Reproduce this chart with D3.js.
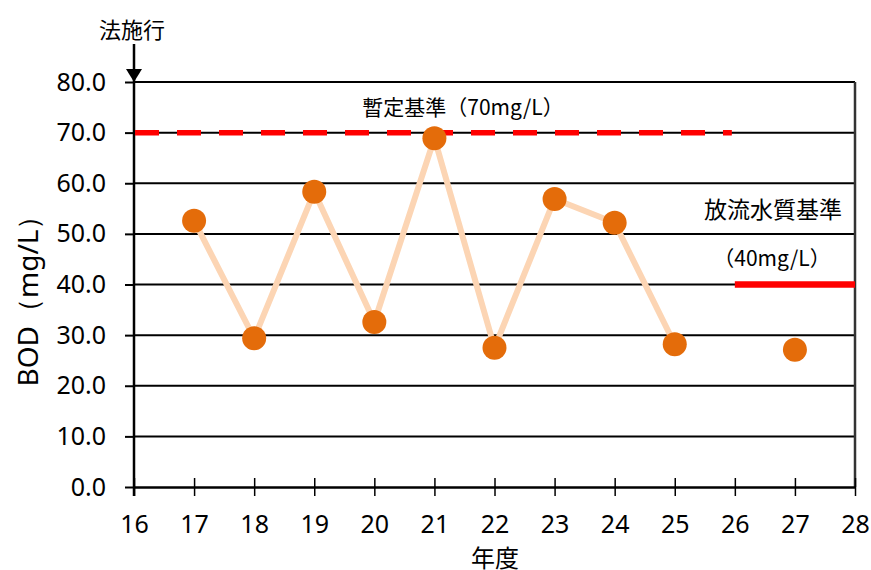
<!DOCTYPE html>
<html>
<head>
<meta charset="utf-8">
<script src="https://cdn.jsdelivr.net/npm/d3@7"></script>
<style>
  html, body { margin: 0; padding: 0; background: #fff; }
  svg { display: block; }
</style>
</head>
<body>
<svg id="chart" width="871" height="570"></svg>
<script>
// Fiscal years (Heisei) and annual BOD readings (mg/L); 26 has no measurement
const years = [17, 18, 19, 20, 21, 22, 23, 24, 25, 26, 27];
const bod = [52.6, 29.4, 58.3, 32.6, 68.9, 27.5, 56.9, 52.2, 28.2, null, 27.1];

const xTicks = [16, 17, 18, 19, 20, 21, 22, 23, 24, 25, 26, 27, 28];
const yTicks = [0, 10, 20, 30, 40, 50, 60, 70, 80];

// Regulatory limits: provisional standard and effluent standard
const provisionalLimit = 70;
const provisionalSpan = [16, 26];
const effluentLimit = 40;
const effluentSpan = [26, 28];
const lawYear = 16;

const svg = d3.select("#chart");
const latin = "'Noto Sans', 'Open Sans', sans-serif";
const cjk = "'Noto Sans CJK JP', sans-serif";

const x = d3.scaleLinear().domain([16, 28]).range([134, 855]);
const y = d3.scaleLinear().domain([0, 80]).range([487, 82]);

// Horizontal gridlines
svg.append("g")
  .selectAll("line")
  .data(yTicks.filter(v => v > 0))
  .join("line")
  .attr("x1", x(16)).attr("x2", x(28))
  .attr("y1", d => y(d)).attr("y2", d => y(d))
  .attr("stroke", "#000").attr("stroke-width", 2);

// Right frame edge
svg.append("line")
  .attr("x1", x(28)).attr("x2", x(28))
  .attr("y1", y(80)).attr("y2", y(0))
  .attr("stroke", "#333").attr("stroke-width", 2.5);

// Y axis
const yAxis = svg.append("g")
  .attr("transform", `translate(${x(16)},0)`)
  .call(d3.axisLeft(y).tickValues(yTicks).tickFormat(d3.format(".1f")).tickSize(9).tickPadding(19));
yAxis.select(".domain").remove();
yAxis.selectAll(".tick line").attr("stroke", "#000").attr("stroke-width", 2);
yAxis.selectAll(".tick text")
  .attr("font-family", latin).attr("font-size", 25).attr("fill", "#000");

// X axis with ticks crossing the baseline
const xAxis = svg.append("g")
  .attr("transform", `translate(0,${y(0)})`)
  .call(d3.axisBottom(x).tickValues(xTicks).tickFormat(d3.format("d")).tickSizeInner(9).tickSizeOuter(0).tickPadding(19));
xAxis.select(".domain").attr("stroke", "#000").attr("stroke-width", 2.5);
xAxis.selectAll(".tick line").attr("y1", -9).attr("stroke", "#000").attr("stroke-width", 1.5);
xAxis.selectAll(".tick text")
  .attr("font-family", latin).attr("font-size", 25).attr("fill", "#000");

// Left axis line, extended upward as the marker for the year the law took effect
svg.append("line")
  .attr("x1", x(lawYear)).attr("x2", x(lawYear))
  .attr("y1", 44).attr("y2", y(0) + 9)
  .attr("stroke", "#000").attr("stroke-width", 2.5);
svg.append("path")
  .attr("d", d3.line()([[x(lawYear) - 8, y(80) - 13], [x(lawYear) + 8, y(80) - 13], [x(lawYear), y(80)]]) + "Z")
  .attr("fill", "#000");
svg.append("text")
  .attr("x", x(lawYear) - 2).attr("y", 28)
  .attr("text-anchor", "middle").attr("dominant-baseline", "central")
  .attr("font-family", cjk).attr("font-size", 22).attr("fill", "#000")
  .text("法施行");

// Provisional standard (dashed)
svg.append("line")
  .attr("x1", x(provisionalSpan[0]) + 1).attr("x2", x(provisionalSpan[1]) - 3)
  .attr("y1", y(provisionalLimit)).attr("y2", y(provisionalLimit))
  .attr("stroke", "#ff0000").attr("stroke-width", 5.5)
  .attr("stroke-dasharray", "24 18");

// Effluent standard (solid)
svg.append("line")
  .attr("x1", x(effluentSpan[0])).attr("x2", x(effluentSpan[1]))
  .attr("y1", y(effluentLimit)).attr("y2", y(effluentLimit))
  .attr("stroke", "#ff0000").attr("stroke-width", 6.5);

// BOD series
const pts = years.map((yr, i) => ({ yr, v: bod[i] }));
svg.append("path")
  .datum(pts)
  .attr("d", d3.line().defined(d => d.v != null).x(d => x(d.yr)).y(d => y(d.v)))
  .attr("fill", "none")
  .attr("stroke", "#fcd5b4").attr("stroke-width", 6)
  .attr("stroke-linejoin", "round");
svg.append("g")
  .selectAll("circle")
  .data(pts.filter(d => d.v != null))
  .join("circle")
  .attr("cx", d => x(d.yr)).attr("cy", d => y(d.v))
  .attr("r", 12)
  .attr("fill", "#e46c0a");

// Annotations
svg.append("text")
  .attr("x", 463).attr("y", 106)
  .attr("text-anchor", "middle").attr("dominant-baseline", "central")
  .attr("font-family", cjk).attr("font-size", 21).attr("fill", "#000")
  .text("暫定基準（70mg/L）");
svg.append("text")
  .attr("x", 773).attr("y", 208)
  .attr("text-anchor", "middle").attr("dominant-baseline", "central")
  .attr("font-family", cjk).attr("font-size", 23).attr("fill", "#000")
  .text("放流水質基準");
svg.append("text")
  .attr("x", 772).attr("y", 257)
  .attr("text-anchor", "middle").attr("dominant-baseline", "central")
  .attr("font-family", cjk).attr("font-size", 21).attr("fill", "#000")
  .text("（40mg/L）");

// Axis titles
svg.append("text")
  .attr("transform", "translate(27,294) rotate(-90)")
  .attr("text-anchor", "middle").attr("dominant-baseline", "central")
  .attr("font-family", latin).attr("font-size", 28).attr("fill", "#000")
  .text("BOD（mg/L）");
svg.append("text")
  .attr("x", 495).attr("y", 556)
  .attr("text-anchor", "middle").attr("dominant-baseline", "central")
  .attr("font-family", cjk).attr("font-size", 24).attr("fill", "#000")
  .text("年度");
</script>
</body>
</html>
